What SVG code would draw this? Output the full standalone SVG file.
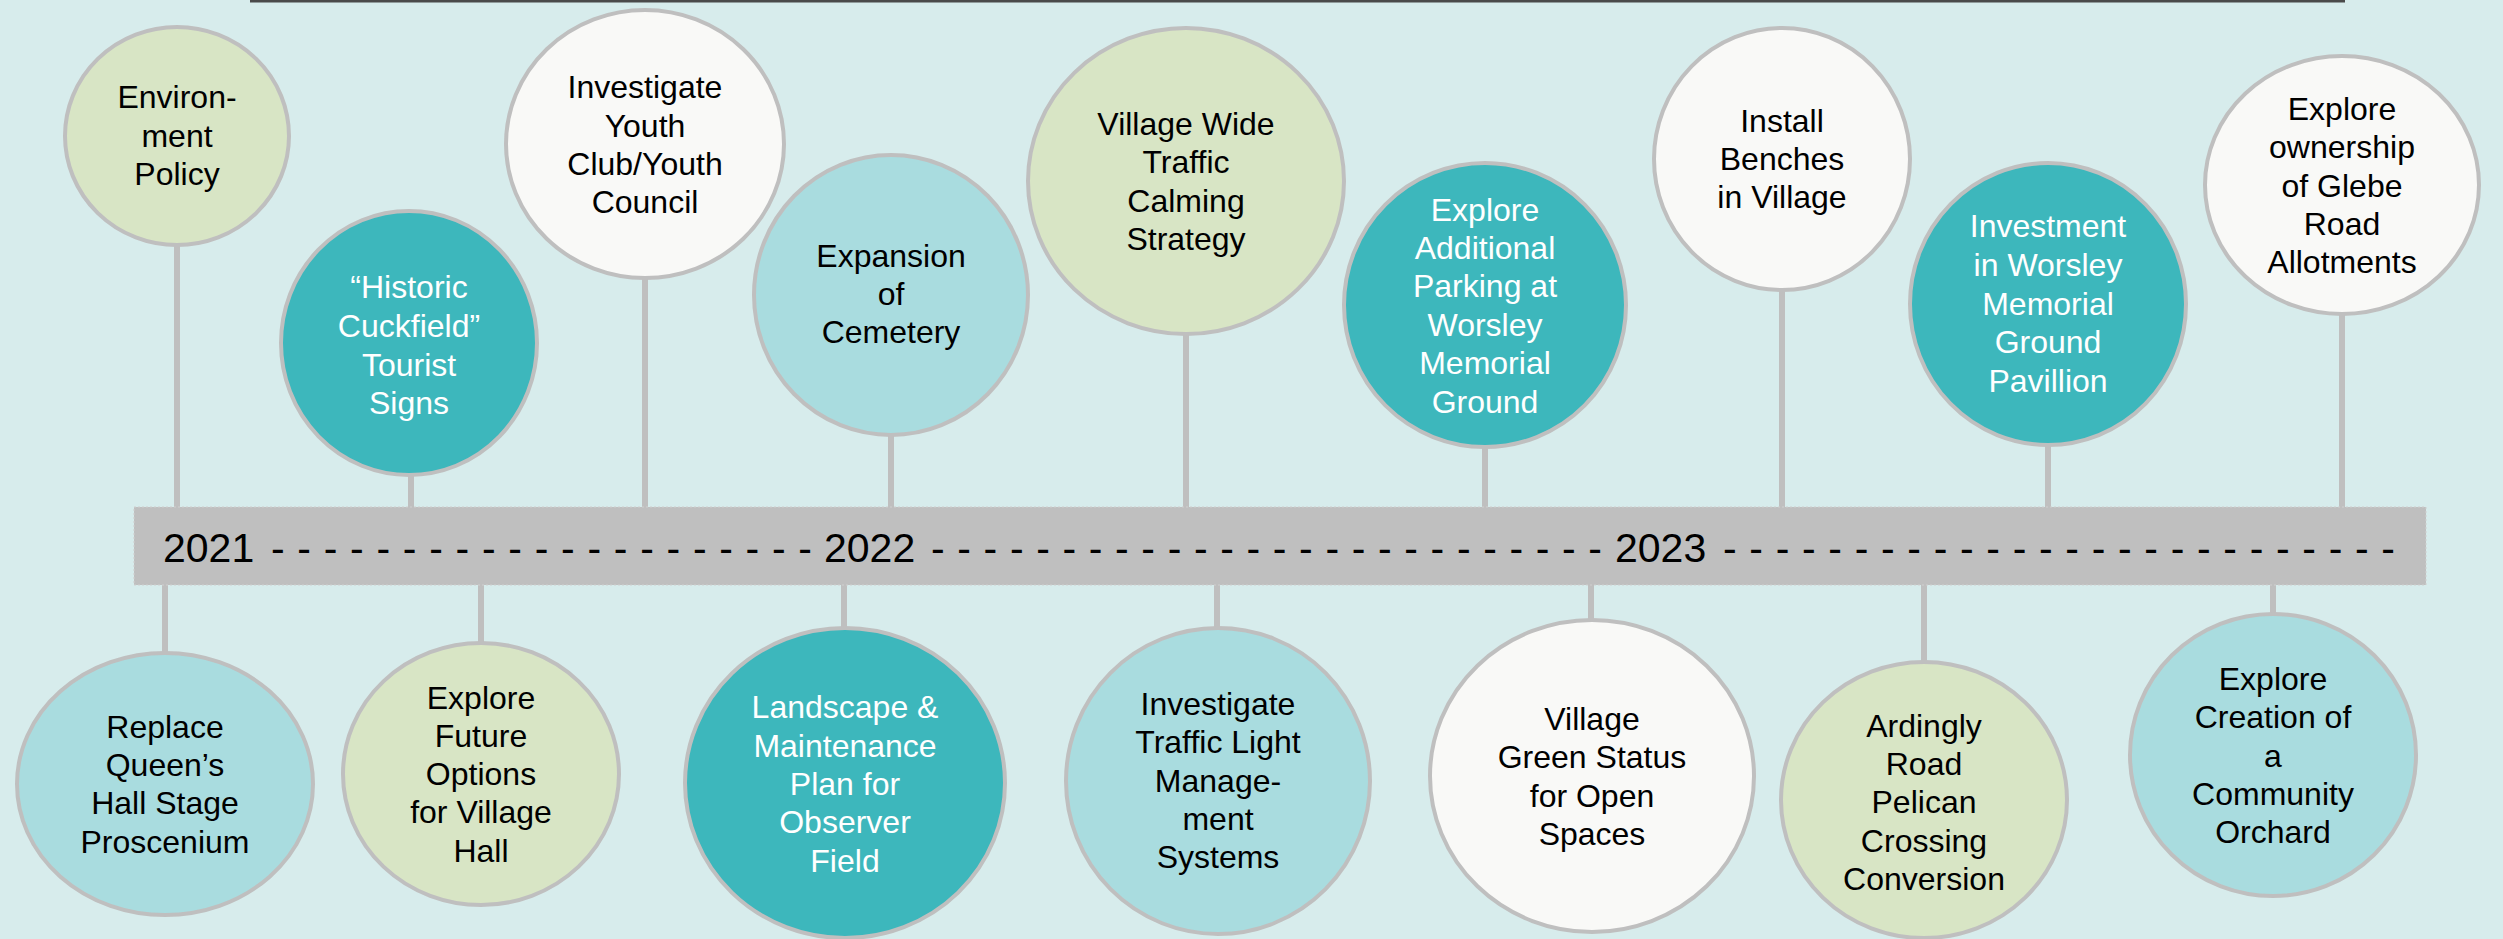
<svg xmlns="http://www.w3.org/2000/svg" width="2503" height="939" viewBox="0 0 2503 939">
<style>
  .bg{fill:#D7ECEC}
  .stem{stroke:#BFBFBF;stroke-width:6;fill:none}
  .node{stroke:#BFBFBF;stroke-width:4}
  .teal{fill:#3DB7BC}
  .lteal{fill:#A9DCDF}
  .green{fill:#D8E5C5}
  .white{fill:#F9F9F7}
  text{font-family:"Liberation Sans",Arial,sans-serif;font-size:32px;text-anchor:middle;fill:#000}
  .wt{fill:#FFFFFF}
  .yr{font-size:41px;text-anchor:start}
  .dash{font-size:41px;text-anchor:start}
</style>
<rect class="bg" x="0" y="0" width="2503" height="939"/>
<rect x="250" y="0" width="2095" height="2.5" fill="#4A4A4A"/>

<g id="connectors">
  <line class="stem" x1="177" y1="245" x2="177" y2="508"/>
  <line class="stem" x1="411" y1="475" x2="411" y2="508"/>
  <line class="stem" x1="645" y1="278" x2="645" y2="508"/>
  <line class="stem" x1="891" y1="435" x2="891" y2="508"/>
  <line class="stem" x1="1186" y1="334" x2="1186" y2="508"/>
  <line class="stem" x1="1485" y1="447" x2="1485" y2="508"/>
  <line class="stem" x1="1782" y1="290" x2="1782" y2="508"/>
  <line class="stem" x1="2048" y1="445" x2="2048" y2="508"/>
  <line class="stem" x1="2342" y1="314" x2="2342" y2="508"/>
  <line class="stem" x1="165" y1="584" x2="165" y2="653"/>
  <line class="stem" x1="481" y1="584" x2="481" y2="643"/>
  <line class="stem" x1="844" y1="584" x2="844" y2="628"/>
  <line class="stem" x1="1217" y1="584" x2="1217" y2="628"/>
  <line class="stem" x1="1591" y1="584" x2="1591" y2="620"/>
  <line class="stem" x1="1924" y1="584" x2="1924" y2="662"/>
  <line class="stem" x1="2273" y1="584" x2="2273" y2="614"/>
</g>

<g id="timeline">
  <rect x="134" y="507" width="2292" height="78" fill="#BFBFBF" stroke="#CFCFCF" stroke-width="1" stroke-dasharray="2 2"/>
  <text class="yr" x="163" y="562">2021</text>
  <text class="dash" x="271" y="562" textLength="541" lengthAdjust="spacing">- - - - - - - - - - - - - - - - - - - - -</text>
  <text class="yr" x="824" y="562">2022</text>
  <text class="dash" x="931" y="562" textLength="671" lengthAdjust="spacing">- - - - - - - - - - - - - - - - - - - - - - - - - -</text>
  <text class="yr" x="1615" y="562">2023</text>
  <text class="dash" x="1723" y="562" textLength="672" lengthAdjust="spacing">- - - - - - - - - - - - - - - - - - - - - - - - - -</text>
</g>

<g id="n-environment">
  <ellipse class="node green" cx="177" cy="136" rx="112" ry="109"/>
  <text x="177" y="108">Environ-</text>
  <text x="177" y="147">ment</text>
  <text x="177" y="185">Policy</text>
</g>
<g id="n-tourist">
  <ellipse class="node teal" cx="409" cy="343" rx="128" ry="132"/>
  <text class="wt" x="409" y="298">“Historic</text>
  <text class="wt" x="409" y="337">Cuckfield”</text>
  <text class="wt" x="409" y="376">Tourist</text>
  <text class="wt" x="409" y="414">Signs</text>
</g>
<g id="n-youth">
  <ellipse class="node white" cx="645" cy="144" rx="139" ry="134"/>
  <text x="645" y="98">Investigate</text>
  <text x="645" y="137">Youth</text>
  <text x="645" y="175">Club/Youth</text>
  <text x="645" y="213">Council</text>
</g>
<g id="n-cemetery">
  <ellipse class="node lteal" cx="891" cy="295" rx="137" ry="140"/>
  <text x="891" y="267">Expansion</text>
  <text x="891" y="305">of</text>
  <text x="891" y="343">Cemetery</text>
</g>
<g id="n-traffic-calming">
  <ellipse class="node green" cx="1186" cy="181" rx="158" ry="153"/>
  <text x="1186" y="135">Village Wide</text>
  <text x="1186" y="173">Traffic</text>
  <text x="1186" y="212">Calming</text>
  <text x="1186" y="250">Strategy</text>
</g>
<g id="n-parking">
  <ellipse class="node teal" cx="1485" cy="305" rx="141" ry="142"/>
  <text class="wt" x="1485" y="221">Explore</text>
  <text class="wt" x="1485" y="259">Additional</text>
  <text class="wt" x="1485" y="297">Parking at</text>
  <text class="wt" x="1485" y="336">Worsley</text>
  <text class="wt" x="1485" y="374">Memorial</text>
  <text class="wt" x="1485" y="413">Ground</text>
</g>
<g id="n-benches">
  <ellipse class="node white" cx="1782" cy="159" rx="128" ry="131"/>
  <text x="1782" y="132">Install</text>
  <text x="1782" y="170">Benches</text>
  <text x="1782" y="208">in Village</text>
</g>
<g id="n-pavillion">
  <ellipse class="node teal" cx="2048" cy="304" rx="138" ry="141"/>
  <text class="wt" x="2048" y="237">Investment</text>
  <text class="wt" x="2048" y="276">in Worsley</text>
  <text class="wt" x="2048" y="315">Memorial</text>
  <text class="wt" x="2048" y="353">Ground</text>
  <text class="wt" x="2048" y="392">Pavillion</text>
</g>
<g id="n-glebe">
  <ellipse class="node white" cx="2342" cy="185" rx="137" ry="129"/>
  <text x="2342" y="120">Explore</text>
  <text x="2342" y="158">ownership</text>
  <text x="2342" y="197">of Glebe</text>
  <text x="2342" y="235">Road</text>
  <text x="2342" y="273">Allotments</text>
</g>

<g id="n-proscenium">
  <ellipse class="node lteal" cx="165" cy="784" rx="148" ry="131"/>
  <text x="165" y="738">Replace</text>
  <text x="165" y="776">Queen’s</text>
  <text x="165" y="814">Hall Stage</text>
  <text x="165" y="853">Proscenium</text>
</g>
<g id="n-village-hall">
  <ellipse class="node green" cx="481" cy="774" rx="138" ry="131"/>
  <text x="481" y="709">Explore</text>
  <text x="481" y="747">Future</text>
  <text x="481" y="785">Options</text>
  <text x="481" y="823">for Village</text>
  <text x="481" y="862">Hall</text>
</g>
<g id="n-landscape">
  <ellipse class="node teal" cx="845" cy="783" rx="160" ry="155"/>
  <text class="wt" x="845" y="718">Landscape &amp;</text>
  <text class="wt" x="845" y="757">Maintenance</text>
  <text class="wt" x="845" y="795">Plan for</text>
  <text class="wt" x="845" y="833">Observer</text>
  <text class="wt" x="845" y="872">Field</text>
</g>
<g id="n-traffic-light">
  <ellipse class="node lteal" cx="1218" cy="781" rx="152" ry="153"/>
  <text x="1218" y="715">Investigate</text>
  <text x="1218" y="753">Traffic Light</text>
  <text x="1218" y="792">Manage-</text>
  <text x="1218" y="830">ment</text>
  <text x="1218" y="868">Systems</text>
</g>
<g id="n-village-green">
  <ellipse class="node white" cx="1592" cy="776" rx="162" ry="156"/>
  <text x="1592" y="730">Village</text>
  <text x="1592" y="768">Green Status</text>
  <text x="1592" y="807">for Open</text>
  <text x="1592" y="845">Spaces</text>
</g>
<g id="n-pelican">
  <ellipse class="node green" cx="1924" cy="800" rx="143" ry="138"/>
  <text x="1924" y="737">Ardingly</text>
  <text x="1924" y="775">Road</text>
  <text x="1924" y="813">Pelican</text>
  <text x="1924" y="852">Crossing</text>
  <text x="1924" y="890">Conversion</text>
</g>
<g id="n-orchard">
  <ellipse class="node lteal" cx="2273" cy="755" rx="143" ry="141"/>
  <text x="2273" y="690">Explore</text>
  <text x="2273" y="728">Creation of</text>
  <text x="2273" y="767">a</text>
  <text x="2273" y="805">Community</text>
  <text x="2273" y="843">Orchard</text>
</g>
</svg>
